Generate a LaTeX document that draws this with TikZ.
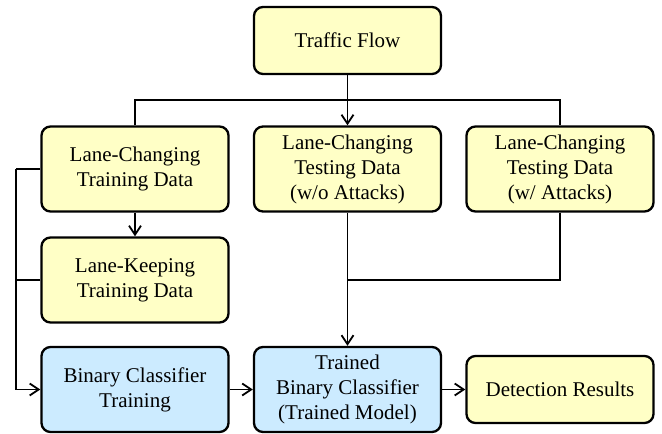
\documentclass[tikz,border=0pt]{standalone}
\usepackage{fontspec}
\setmainfont{Liberation Serif}
\usetikzlibrary{arrows.meta}
\definecolor{boxyellow}{HTML}{FFFFC6}
\definecolor{boxblue}{HTML}{CCEBFF}
\tikzset{
  blk/.style={draw=black, line width=2.3pt, rounded corners=9pt, minimum width=187pt, minimum height=85pt, align=center, inner sep=0pt, font=\fontsize{21}{25}\selectfont},
  yblk/.style={blk, fill=boxyellow},
  bblk/.style={blk, fill=boxblue},
  conn/.style={line width=1.8pt},
  arr/.style={conn, -{Straight Barb[length=9pt,width=12pt,line width=1.8pt]}},
}
\begin{document}
\begin{tikzpicture}[x=1pt,y=-1pt]
\useasboundingbox (0,0) rectangle (662,434);
\node[yblk, minimum height=67pt] (tf) at (347.5,40.5) {Traffic Flow};
\node[yblk] (lct) at (135,169) {Lane-Changing\\Training Data};
\node[yblk] (lcw) at (347.5,169) {Lane-Changing\\Testing Data\\(w/o Attacks)};
\node[yblk] (lca) at (560,169) {Lane-Changing\\Testing Data\\(w/ Attacks)};
\node[yblk] (lk) at (135,280) {Lane-Keeping\\Training Data};
\node[bblk] (bct) at (135,389.5) {Binary Classifier\\Training};
\node[bblk] (tbc) at (347.5,389.5) {Trained\\Binary Classifier\\(Trained Model)};
\node[yblk, minimum height=67pt] (det) at (560,389.5) {Detection Results};
\coordinate (busl) at (135,100);
\coordinate (busr) at (560,100);
\coordinate (ll) at (16,169);
\coordinate (lb) at (16,389.5);
\coordinate (rj) at (560,280);
\coordinate (mj) at (347.5,280);
\draw[arr] (tf.south) -- (lcw.north);
\draw[conn] (lct.north) -- (busl) -- (busr) -- (lca.north);
\draw[arr] (lct.south) -- (lk.north);
\draw[conn] (lct.west) -- (ll);
\draw[conn] (lk.west) -- (lk.west -| ll);
\draw[arr] (ll) -- (lb) -- (bct.west);
\draw[conn] (lca.south) -- (rj) -- (mj);
\draw[arr] (lcw.south) -- (tbc.north);
\draw[arr] (bct.east) -- (tbc.west);
\draw[arr] (tbc.east) -- (det.west);
\end{tikzpicture}
\end{document}
